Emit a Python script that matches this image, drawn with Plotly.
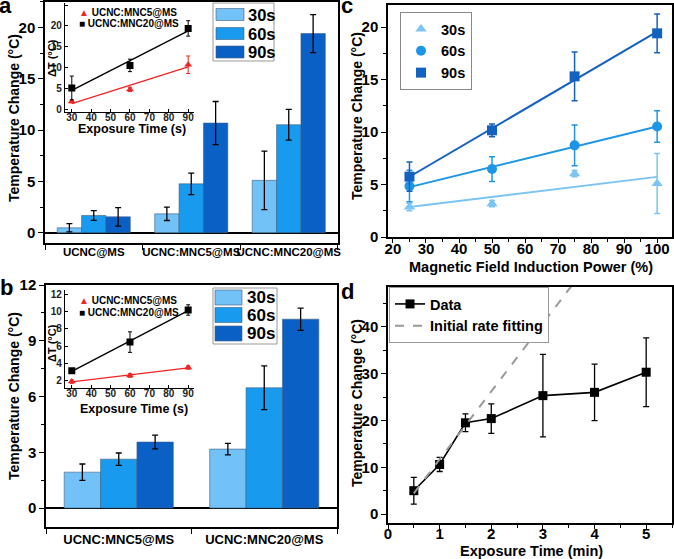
import numpy as np
import plotly.graph_objects as go

W, H = 674, 559
FONT = "Arial, Liberation Sans, sans-serif"

# ---------------- data ----------------
# panel a
groups_a = ["UCNC@MS", "UCNC:MNC5@MS", "UCNC:MNC20@MS"]
a_30 = [0.48, 1.84, 5.1]
a_30_err = [0.4, 0.65, 2.85]
a_60 = [1.68, 4.76, 10.52]
a_60_err = [0.48, 1.05, 1.5]
a_90 = [1.55, 10.68, 19.4]
a_90_err = [0.9, 2.1, 1.85]

# inset a
inset_time = [30, 60, 90]
inset_names = ["UCNC:MNC5@MS", "UCNC:MNC20@MS"]
ia_mnc5 = [1.84, 4.76, 10.68]
ia_mnc5_err = [0.3, 0.5, 2.1]
ia_mnc20 = [5.1, 10.52, 19.4]
ia_mnc20_err = [2.85, 1.5, 1.85]

# panel b
groups_b = ["UCNC:MNC5@MS", "UCNC:MNC20@MS"]
b_30 = [1.93, 3.17]
b_30_err = [0.44, 0.31]
b_60 = [2.63, 6.47]
b_60_err = [0.33, 1.18]
b_90 = [3.55, 10.16]
b_90_err = [0.37, 0.6]

# inset b
ib_mnc5 = [1.93, 2.63, 3.55]
ib_mnc5_err = [0.2, 0.2, 0.2]
ib_mnc20 = [3.17, 6.47, 10.16]
ib_mnc20_err = [0.15, 1.18, 0.6]

# panel c
power = [25, 50, 75, 100]
c_30 = [2.86, 3.17, 6.03, 5.1]
c_30_err = [0.35, 0.3, 0.3, 2.85]
c_60 = [4.85, 6.47, 8.73, 10.52]
c_60_err = [1.5, 1.18, 1.95, 1.5]
c_90 = [5.75, 10.16, 15.3, 19.4]
c_90_err = [1.4, 0.6, 2.33, 1.85]

# panel d
time_min = [0.5, 1, 1.5, 2, 3, 4, 5]
d_val = [5.0, 10.6, 19.5, 20.4, 25.3, 26.0, 30.3]
d_err = [2.85, 1.5, 1.9, 3.15, 8.8, 6.05, 7.35]
fit_range_d = [0.5, 4.0]

series_names = ["30s", "60s", "90s"]

# ---------------- style ----------------
C30, C60, C90 = "#72C1F7", "#189BEE", "#0A60C5"
L30, L60, L90 = "#7CC5F3", "#1E96E8", "#1462C0"
RED = "#F02424"
BAR_LINE = dict(color="#40607F", width=0.6)


def px(x):
    return x / W


def py(y):
    return 1 - y / H


def ebar(arr, color="black", thick=1.3, width=3):
    return dict(type="data", array=arr, color=color, thickness=thick, width=width)


fig = go.Figure()

# ---- panel a bars ----
for name, vals, errs, col in zip(series_names, [a_30, a_60, a_90],
                                 [a_30_err, a_60_err, a_90_err], [C30, C60, C90]):
    fig.add_trace(go.Bar(x=groups_a, y=vals, error_y=ebar(errs), name=name,
                         marker=dict(color=col, line=BAR_LINE), showlegend=False,
                         xaxis="x", yaxis="y"))

# ---- panel b bars ----
for name, vals, errs, col in zip(series_names, [b_30, b_60, b_90],
                                 [b_30_err, b_60_err, b_90_err], [C30, C60, C90]):
    fig.add_trace(go.Bar(x=groups_b, y=vals, error_y=ebar(errs), name=name,
                         marker=dict(color=col, line=BAR_LINE), showlegend=False,
                         xaxis="x3", yaxis="y3"))


# ---- insets ----
def add_inset(xa, ya, m5, m5e, m20, m20e):
    tt = np.array(inset_time, dtype=float)
    for vals, col in [(m5, RED), (m20, "black")]:
        k, b0 = np.polyfit(tt, np.array(vals), 1)
        xs = np.array([tt.min(), tt.max()])
        fig.add_trace(go.Scatter(x=xs, y=k * xs + b0, mode="lines",
                                 line=dict(color=col, width=1.4), showlegend=False,
                                 xaxis=xa, yaxis=ya))
    fig.add_trace(go.Scatter(x=inset_time, y=m5, mode="markers", name=inset_names[0],
                             marker=dict(symbol="triangle-up", size=7, color=RED),
                             error_y=ebar(m5e, RED, 1, 2), showlegend=False,
                             xaxis=xa, yaxis=ya))
    fig.add_trace(go.Scatter(x=inset_time, y=m20, mode="markers", name=inset_names[1],
                             marker=dict(symbol="square", size=7, color="black"),
                             error_y=ebar(m20e, "black", 1, 2), showlegend=False,
                             xaxis=xa, yaxis=ya))


add_inset("x2", "y2", ia_mnc5, ia_mnc5_err, ia_mnc20, ia_mnc20_err)
add_inset("x4", "y4", ib_mnc5, ib_mnc5_err, ib_mnc20, ib_mnc20_err)

# ---- panel c ----
pw = np.array(power, dtype=float)
for name, vals, errs, col, sym in zip(series_names, [c_30, c_60, c_90],
                                      [c_30_err, c_60_err, c_90_err], [L30, L60, L90],
                                      ["triangle-up", "circle", "square"]):
    k, b0 = np.polyfit(pw, np.array(vals), 1)
    xs = np.array([pw.min(), pw.max()])
    fig.add_trace(go.Scatter(x=xs, y=k * xs + b0, mode="lines",
                             line=dict(color=col, width=2), showlegend=False,
                             xaxis="x5", yaxis="y5"))
    fig.add_trace(go.Scatter(x=power, y=vals, mode="markers", name=name,
                             marker=dict(symbol=sym, size=10, color=col),
                             error_y=ebar(errs, col, 1.5, 3), legend="legend",
                             xaxis="x5", yaxis="y5"))

# ---- panel d ----
tm = np.array(time_min[:3], dtype=float)
k, b0 = np.polyfit(tm, np.array(d_val[:3]), 1)
xs = np.array(fit_range_d)
fig.add_trace(go.Scatter(x=time_min, y=d_val, mode="lines+markers", name="Data",
                         line=dict(color="black", width=1.6),
                         marker=dict(symbol="square", size=9, color="black"),
                         error_y=ebar(d_err, "black", 1.3, 3), legend="legend2",
                         xaxis="x6", yaxis="y6"))
fig.add_trace(go.Scatter(x=xs, y=k * xs + b0, mode="lines", name="Initial rate fitting",
                         line=dict(color="#999999", width=2, dash="dash"),
                         legend="legend2", xaxis="x6", yaxis="y6"))

# ---------------- axes ----------------
main_ax = dict(showline=True, linecolor="black", linewidth=1.5, mirror=True,
               ticks="outside", ticklen=5, tickwidth=1.4, tickcolor="black",
               tickfont=dict(family=FONT, size=15, color="black", weight="bold"),
               showgrid=False, zeroline=False, automargin=False)
inset_ax = dict(showline=True, linecolor="black", linewidth=1.2, mirror=False,
                ticks="inside", ticklen=3, tickwidth=1, tickcolor="black",
                tickfont=dict(family=FONT, size=10, color="#222", weight="bold"),
                showgrid=False, zeroline=False, automargin=False)

fig.update_layout(
    # panel a
    xaxis=dict(main_ax, domain=[px(45), px(337.5)], anchor="y", type="category",
               tickson="boundaries", range=[-0.5, 2.5], tickangle=0,
               ticklabelstandoff=-3,
               tickfont=dict(family=FONT, size=11.5, color="black", weight="bold")),
    yaxis=dict(main_ax, domain=[py(243), py(1.7)], anchor="x", range=[-1, 22.5],
               tickvals=[0, 5, 10, 15, 20], zeroline=True, zerolinecolor="black",
               zerolinewidth=1.5,
               minor=dict(ticks="outside", ticklen=3, dtick=2.5, tickcolor="black")),
    # inset a
    xaxis2=dict(inset_ax, domain=[px(65), px(194)], anchor="y2", range=[26.5, 93],
                tickvals=[30, 40, 50, 60, 70, 80, 90], ticklabelstandoff=-4),
    yaxis2=dict(inset_ax, domain=[py(111.7), py(3)], anchor="x2", range=[-0.6, 25.5],
                tickvals=[0, 5, 10, 15, 20, 25]),
    # panel b
    xaxis3=dict(main_ax, domain=[px(46), px(337)], anchor="y3", type="category",
                tickson="boundaries", range=[-0.5, 1.5], tickangle=0,
                tickfont=dict(family=FONT, size=13, color="black", weight="bold")),
    yaxis3=dict(main_ax, domain=[py(527), py(285)], anchor="x3", range=[-1.02, 12],
                tickvals=[0, 3, 6, 9, 12], zeroline=True, zerolinecolor="black",
                zerolinewidth=1.5,
                minor=dict(ticks="outside", ticklen=3, dtick=1.5, tickcolor="black")),
    # inset b
    xaxis4=dict(inset_ax, domain=[px(65), px(194)], anchor="y4", range=[26.5, 93],
                tickvals=[30, 40, 50, 60, 70, 80, 90], ticklabelstandoff=-4),
    yaxis4=dict(inset_ax, domain=[py(388.3), py(290)], anchor="x4", range=[1.16, 12.46],
                tickvals=[2, 4, 6, 8, 10, 12]),
    # panel c
    xaxis5=dict(main_ax, domain=[px(388), px(672)], anchor="y5", range=[18.5, 104.5],
                tickvals=[20, 30, 40, 50, 60, 70, 80, 90, 100], ticklen=4,
                ticklabelstandoff=-7,
                minor=dict(ticks="outside", ticklen=3, dtick=5, tickcolor="black")),
    yaxis5=dict(main_ax, domain=[py(237), py(5)], anchor="x5", range=[0, 22.1],
                tickvals=[0, 5, 10, 15, 20],
                minor=dict(ticks="outside", ticklen=3, dtick=2.5, tickcolor="black")),
    # panel d
    xaxis6=dict(main_ax, domain=[px(388), px(672)], anchor="y6", range=[0, 5.5],
                tickvals=[0, 1, 2, 3, 4, 5], ticklen=4, ticklabelstandoff=-8,
                minor=dict(ticks="outside", ticklen=3, dtick=0.5, tickcolor="black")),
    yaxis6=dict(main_ax, domain=[py(523), py(287)], anchor="x6", range=[-1.9, 48.5],
                tickvals=[0, 10, 20, 30, 40],
                minor=dict(ticks="outside", ticklen=3, dtick=5, tickcolor="black")),
)

# ---------------- legends ----------------
fig.update_layout(
    legend=dict(x=px(400), y=py(12), xanchor="left", yanchor="top",
                bgcolor="white", bordercolor="#888", borderwidth=1,
                font=dict(family=FONT, size=14.5, color="black", weight="bold"),
                tracegroupgap=0, itemwidth=30),
    legend2=dict(x=px(389), y=py(287), xanchor="left", yanchor="top",
                 bgcolor="white", bordercolor="#999", borderwidth=1,
                 font=dict(family=FONT, size=14.5, color="black", weight="bold"),
                 tracegroupgap=0),
)

shapes = []
annotations = []


# bar legends (a and b) drawn as boxes with wide swatches
def bar_legend(box, sw_x, rows_y, sw_h, text_x, fsize):
    x0, y0, x1, y1 = box
    shapes.append(dict(type="rect", xref="paper", yref="paper", x0=px(x0), x1=px(x1),
                       y0=py(y1), y1=py(y0), line=dict(color="#999", width=1),
                       fillcolor="white", layer="above"))
    for name, col, yc in zip(series_names, [C30, C60, C90], rows_y):
        shapes.append(dict(type="rect", xref="paper", yref="paper",
                           x0=px(sw_x[0]), x1=px(sw_x[1]),
                           y0=py(yc + sw_h / 2), y1=py(yc - sw_h / 2),
                           line=dict(color="#40607F", width=0.6), fillcolor=col,
                           layer="above"))
        annotations.append(dict(text=name, xref="paper", yref="paper", x=px(text_x),
                                y=py(yc), xanchor="left", yanchor="middle",
                                showarrow=False,
                                font=dict(family=FONT, size=fsize, color="black",
                                          weight="bold")))


bar_legend((213, 3, 274, 61), (216, 244), (14.5, 33.5, 52), 12, 246, 16.5)
bar_legend((213, 288, 277, 344), (215, 242), (297.5, 315, 333.5), 15, 245, 17)


# inset legends (marker glyph + label)
def inset_legend(x, rows_y):
    for name, col, glyph, yc in zip(inset_names, [RED, "black"], ["▲", "■"], rows_y):
        annotations.append(dict(
            text=f"<span style='color:{col}'>{glyph}</span> {name}",
            xref="paper", yref="paper", x=px(x), y=py(yc), xanchor="left",
            yanchor="middle", showarrow=False,
            font=dict(family=FONT, size=10, color="black", weight="bold")))


inset_legend(77, (12.5, 24))
inset_legend(77, (300.5, 312))


# axis titles placed as text
def title(text, x, y, size, angle=0):
    annotations.append(dict(text=text, xref="paper", yref="paper", x=px(x), y=py(y),
                            xanchor="center", yanchor="middle", showarrow=False,
                            textangle=angle,
                            font=dict(family=FONT, size=size, color="black",
                                      weight="bold")))


ytitle = "Temperature Change (°C)"
title(ytitle, 14, 118, 14, -90)
title(ytitle, 14, 396, 14, -90)
title(ytitle, 357, 116, 14, -90)
title(ytitle, 357, 403, 14, -90)
title("Magnetic Field Induction Power (%)", 531, 267, 14.5)
title("Exposure Time (min)", 531, 551, 14.5)
title("Exposure Time (s)", 132, 129, 12.5)
title("Exposure Time (s)", 134, 409, 12.5)
title("ΔT (°C)", 52, 58, 11, -90)
title("ΔT (°C)", 52, 343, 11, -90)

# panel letters
for letter, (lx, ly) in zip("abcd", [(5, 6), (6, 287), (347, 6), (348, 291)]):
    annotations.append(dict(text=letter, xref="paper", yref="paper", x=px(lx), y=py(ly),
                            xanchor="center", yanchor="middle", showarrow=False,
                            font=dict(family=FONT, size=22, color="black", weight="bold")))

fig.update_layout(
    shapes=shapes, annotations=annotations,
    width=W, height=H, autosize=False,
    margin=dict(l=0, r=0, t=0, b=0),
    paper_bgcolor="white", plot_bgcolor="white",
    barmode="group", bargap=0.25, bargroupgap=0,
    font=dict(family=FONT, color="black"),
)

fig.write_html("out.html", config={"displayModeBar": False},
               post_script="document.body.style.margin='0';document.body.style.overflow='hidden';")
